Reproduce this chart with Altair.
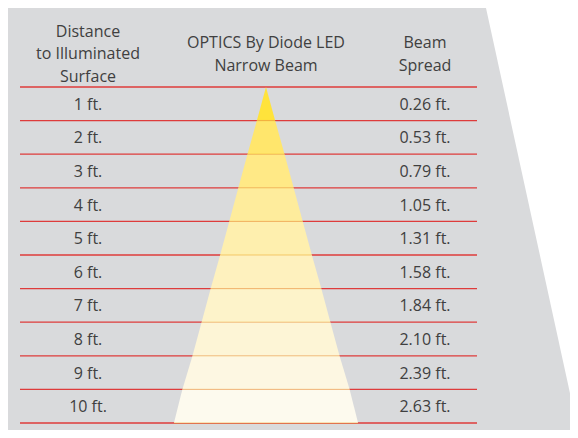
import altair as alt
import pandas as pd

# ---- data ----
distances = [1, 2, 3, 4, 5, 6, 7, 8, 9, 10]
distance_labels = ["1 ft.", "2 ft.", "3 ft.", "4 ft.", "5 ft.", "6 ft.", "7 ft.", "8 ft.", "9 ft.", "10 ft."]
spreads = [0.26, 0.53, 0.79, 1.05, 1.31, 1.58, 1.84, 2.10, 2.39, 2.63]
spread_labels = ["0.26 ft.", "0.53 ft.", "0.79 ft.", "1.05 ft.", "1.31 ft.", "1.58 ft.", "1.84 ft.", "2.10 ft.", "2.39 ft.", "2.63 ft."]
header_left = ["Distance", "to Illuminated", "Surface"]
header_mid = ["OPTICS By Diode LED", "Narrow Beam"]
header_right = ["Beam", "Spread"]
band_colors = ["#FFE33B", "#FFE66C", "#FFE986", "#FEEC9C", "#FEEFAE",
               "#FEF1BE", "#FDF3CA", "#FDF5D6", "#FDF7E2", "#FDFAEE"]

# ---- layout ----
W, H = 562, 422
ROW_PX = 33.6          # pixels per row (1 ft of distance)
TOP_PX = 79            # header rule position in the plot area
Y_DOM = [-TOP_PX / ROW_PX, (H - TOP_PX) / ROW_PX]
BEAM_CX, PX_PER_FT = 258, 70
FT_DOM = [-BEAM_CX / PX_PER_FT, (W - BEAM_CX) / PX_PER_FT]
COL_LEFT, COL_MID, COL_RIGHT = 80, 258, 417
RULE_X0, RULE_X1 = 12, 469
HEADER_CENTER = -0.82
LINE_H = 22.5 / ROW_PX
FONT = "Open Sans"
FS = 16
TXT = "#404040"
GRAY = "#D9DADC"
RED = "#DE3B3B"

xpx = alt.Scale(domain=[0, W], nice=False, zero=False)
yrow = alt.Scale(domain=Y_DOM, reverse=True, nice=False, zero=False)
xft = alt.Scale(domain=FT_DOM, nice=False, zero=False)

# background panel (slanted right edge), drawn as a vertical area
bg = pd.DataFrame({"x": [-2, 478, 570],
                   "y": [Y_DOM[0], Y_DOM[0], Y_DOM[1]],
                   "y2": [Y_DOM[1], Y_DOM[1], Y_DOM[1]]})
bg_layer = alt.Chart(bg).mark_area(color=GRAY, orient="vertical").encode(
    x=alt.X("x:Q", scale=xpx, axis=None),
    y=alt.Y("y:Q", scale=yrow, axis=None),
    y2="y2:Q",
)

rules = pd.DataFrame({"d": [0] + distances, "x": RULE_X0, "x2": RULE_X1})
rule_layer = alt.Chart(rules).mark_rule(color=RED, strokeWidth=1.3).encode(
    y=alt.Y("d:Q", scale=yrow, axis=None),
    x=alt.X("x:Q", scale=xpx, axis=None),
    x2="x2:Q",
)

# text
rows = pd.DataFrame({"d": [d - 0.5 for d in distances], "left": distance_labels, "right": spread_labels,
                     "xl": COL_LEFT, "xr": COL_RIGHT})
txt_kw = dict(font=FONT, fontSize=FS, color=TXT, baseline="alphabetic", dy=6, align="center")
left_txt = alt.Chart(rows).mark_text(**txt_kw).encode(
    y=alt.Y("d:Q", scale=yrow, axis=None), x=alt.X("xl:Q", scale=xpx, axis=None), text="left:N")
right_txt = alt.Chart(rows).mark_text(**txt_kw).encode(
    y=alt.Y("d:Q", scale=yrow, axis=None), x=alt.X("xr:Q", scale=xpx, axis=None), text="right:N")

hdr_rows = []
for col, lines in ((COL_LEFT, header_left), (COL_MID, header_mid), (COL_RIGHT, header_right)):
    n = len(lines)
    for i, t in enumerate(lines):
        hdr_rows.append({"x": col, "y": HEADER_CENTER + (i - (n - 1) / 2) * LINE_H, "t": t})
hdr = pd.DataFrame(hdr_rows)
hdr_layer = alt.Chart(hdr).mark_text(font=FONT, fontSize=FS, color=TXT, baseline="alphabetic", align="center").encode(
    y=alt.Y("y:Q", scale=yrow, axis=None),
    x=alt.X("x:Q", scale=xpx, axis=None),
    text="t:N",
)

# beam bands (triangle made of per-row trapezoids), vertical areas
prev = [0.0] + spreads[:-1]
band_rows = []
for i, d in enumerate(distances):
    band_rows.append({"band": d, "k": 0, "x": -spreads[i] / 2, "y": d, "y2": d})
    band_rows.append({"band": d, "k": 1, "x": -prev[i] / 2, "y": d - 1, "y2": d})
    band_rows.append({"band": d, "k": 2, "x": prev[i] / 2 + 1e-6, "y": d - 1, "y2": d})
    band_rows.append({"band": d, "k": 3, "x": spreads[i] / 2, "y": d, "y2": d})
bands = pd.DataFrame(band_rows)
beam_layer = alt.Chart(bands).mark_area(orient="vertical").encode(
    x=alt.X("x:Q", scale=xft, axis=None),
    y=alt.Y("y:Q", scale=yrow, axis=None),
    y2="y2:Q",
    color=alt.Color("band:O", scale=alt.Scale(domain=distances, range=band_colors), legend=None),
    detail="band:O",
)
inner = pd.DataFrame({"d": distances, "lo": [-s / 2 for s in spreads], "hi": [s / 2 for s in spreads]})
inner_layer = alt.Chart(inner).mark_rule(color="#EBA21C", opacity=0.35, strokeWidth=1.3).encode(
    y=alt.Y("d:Q", scale=yrow, axis=None),
    x=alt.X("lo:Q", scale=xft, axis=None),
    x2="hi:Q",
)

px_layers = alt.layer(bg_layer, rule_layer, left_txt, right_txt, hdr_layer)
ft_layers = alt.layer(beam_layer, inner_layer)

chart = alt.layer(px_layers, ft_layers).resolve_scale(x="independent").properties(
    width=W, height=H, padding=0, autosize=alt.AutoSizeParams(type="none"), background="white"
).configure_view(stroke=None)

chart.save("out.html", embed_options={"renderer": "svg", "actions": False})
